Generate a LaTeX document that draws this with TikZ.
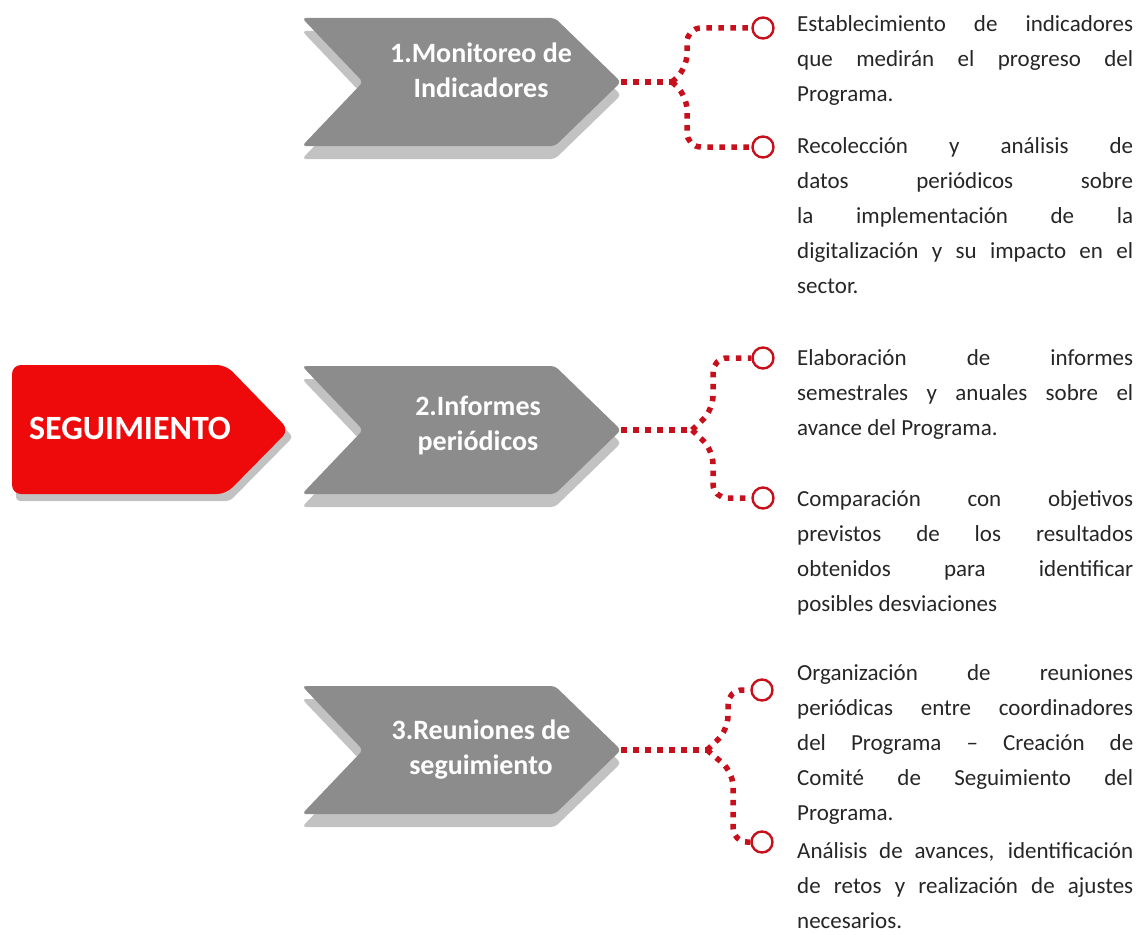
\documentclass[tikz,border=0pt]{standalone}
\usepackage{fontspec}
\setmainfont{Carlito}
\definecolor{chevgray}{RGB}{140,140,140}
\definecolor{shadegray}{RGB}{194,194,194}
\definecolor{tagred}{RGB}{238,10,10}
\definecolor{dotred}{RGB}{200,16,28}
\definecolor{txtgray}{RGB}{38,38,38}
\tolerance=10000
\hyphenpenalty=10000
\tikzset{
	chevron/.style = {fill = chevgray, rounded corners = 4pt},
	chevshadow/.style = {fill = shadegray, rounded corners = 4pt},
	tagfill/.style = {fill = tagred, rounded corners = 9pt},
	reddots/.style = {draw = dotred, line width = 5.5pt, dash pattern = on 5.5pt off 6.5pt},
	endring/.style = {circle, draw = dotred, line width = 2.4pt, fill = white, minimum size = 21pt, inner sep = 0pt},
	steptitle/.style = {text = white, align = center, font = \fontsize{28}{35}\selectfont\bfseries},
	itemtext/.style = {anchor = base west, inner sep = 0pt, text width = 336pt, align = justify, text = txtgray,
		font = \fontsize{23}{35}\selectfont},
}
\begin{document}
\begin{tikzpicture}[x = 1pt, y = -1pt]
	\useasboundingbox (0, 0) rectangle (1139, 934);
	%%%%%%%%%%%%%
	\fill[chevshadow] (16, 372) -- (230, 372) -- (293, 437) -- (230, 501) -- (16, 501) -- cycle;
	\fill[tagfill] (12, 365) -- (226, 365) -- (289, 430) -- (226, 494) -- (12, 494) -- cycle;
	\foreach \t in {18, 366, 686} {
		\fill[chevshadow] (302, \t+13) -- (555, \t+13) -- (621, \t+77) -- (555, \t+141) -- (302, \t+141) -- (363, \t+77) -- cycle;
		\fill[chevron] (302, \t) -- (555, \t) -- (621, \t+64) -- (555, \t+128) -- (302, \t+128) -- (363, \t+64) -- cycle;
	}
	%%%%%%%%%%%%%
	\node[text = white, font = \fontsize{34}{40}\selectfont\bfseries] (s) at (130, 428) {SEGUIMIENTO};
	\node[steptitle] (m1) at (481, 70) {1.Monitoreo de\\Indicadores};
	\node[steptitle] (m2) at (478, 425) {2.Informes\\periódicos};
	\node[steptitle] (m3) at (481, 750) {3.Reuniones de\\seguimiento};
	%%%%%%%%%%%%%
	\coordinate (c1) at (621, 82);
	\coordinate (c2) at (621, 430);
	\coordinate (c3) at (621, 750);
	\coordinate (j1) at (672, 82);
	\coordinate (j2) at (692, 430);
	\coordinate (j3) at (707, 750);
	\node[endring] (r1a) at (763, 28) {};
	\node[endring] (r1b) at (763, 147) {};
	\node[endring] (r2a) at (763, 358) {};
	\node[endring] (r2b) at (763, 498) {};
	\node[endring] (r3a) at (762, 690) {};
	\node[endring] (r3b) at (762, 842) {};
	%%%%%%%%%%%%%
	\draw[reddots] (c1) -- (j1);
	\draw[reddots, rounded corners = 14pt] (j1) -- (687, 68) |- (r1a);
	\draw[reddots, rounded corners = 14pt] (j1) -- (687, 96) |- (r1b);
	\draw[reddots] (c2) -- (j2);
	\draw[reddots, rounded corners = 14pt] (j2) -- (713, 410) |- (r2a);
	\draw[reddots, rounded corners = 14pt] (j2) -- (713, 450) |- (r2b);
	\draw[reddots] (c3) -- (j3);
	\draw[reddots, rounded corners = 14pt] (j3) -- (728, 730) |- (r3a);
	\draw[reddots, rounded corners = 14pt] (j3) -- (733, 772) |- (r3b);
	%%%%%%%%%%%%%
	\node[itemtext] (t1a) at (797, 32) {Establecimiento de indicadores\linebreak que medirán el progreso del\linebreak Programa.};
	\node[itemtext] (t1b) at (797, 153) {Recolección y análisis de\linebreak datos periódicos sobre\linebreak la implementación de la\linebreak digitalización y su impacto en el\linebreak sector.};
	\node[itemtext] (t2a) at (797, 365) {Elaboración de informes\linebreak semestrales y anuales sobre el\linebreak avance del Programa.};
	\node[itemtext] (t2b) at (797, 506) {Comparación con objetivos\linebreak previstos de los resultados\linebreak obtenidos para identificar\linebreak posibles desviaciones};
	\node[itemtext] (t3a) at (797, 680) {Organización de reuniones\linebreak periódicas entre coordinadores\linebreak del Programa – Creación de\linebreak Comité de Seguimiento del\linebreak Programa.};
	\node[itemtext] (t3b) at (797, 858) {Análisis de avances, identificación\linebreak de retos y realización de ajustes\linebreak necesarios.};
	%%%%%%%%%%%%%%
\end{tikzpicture}
\end{document}
